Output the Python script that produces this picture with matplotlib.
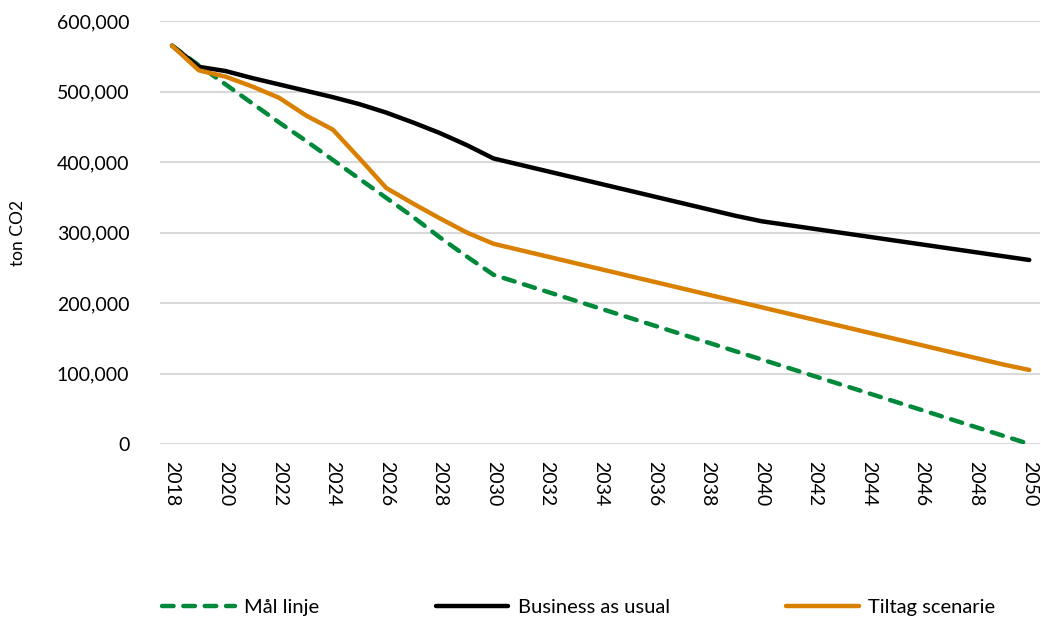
import matplotlib
matplotlib.use("Agg")
import matplotlib.pyplot as plt
from matplotlib.ticker import FuncFormatter

years = list(range(2018, 2051))

maal_linje = [565000, 537000, 510000, 483000, 456000, 430000, 403000, 376000, 349000,
              322000, 293000, 266000, 240000,
              228000, 216000, 204000, 192000, 180000, 168000, 156000, 144000, 132000, 120000,
              108000, 96000, 84000, 72000, 60000, 48000, 36000, 24000, 12000, 0]

business_as_usual = [565000, 535000, 529000, 519000, 510000, 501000, 492000, 482000, 470000,
                     456000, 441000, 424000, 405000,
                     396000, 387000, 378000, 369000, 360000, 351000, 342000, 333000, 324000, 316000,
                     310500, 305000, 299500, 294000, 288500, 283000, 277500, 272000, 266500, 261000]

tiltag_scenarie = [565000, 530000, 521000, 507000, 491000, 466000, 446000, 405000, 363000,
                   341000, 320000, 300000, 284000,
                   275000, 266000, 257000, 248000, 239000, 230000, 221000, 212000, 203000, 194000,
                   185000, 176000, 167000, 158000, 149000, 140000, 131000, 122000, 113000, 105000]

series_names = ["Mål linje", "Business as usual", "Tiltag scenarie"]

plt.rcParams['font.family'] = ['Lato', 'DejaVu Sans']

fig = plt.figure(figsize=(10.41, 6.27), dpi=100)
ax = fig.add_axes([160/1041, 1-444/627, 880/1041, (444-21)/627])

ax.plot(years, maal_linje, color="#00893A", lw=3.2, ls=(0, (2.6, 2.2)),
        dash_capstyle='round', solid_capstyle='round', label=series_names[0], zorder=3)
ax.plot(years, business_as_usual, color="black", lw=3.2, solid_capstyle='round',
        solid_joinstyle='round', label=series_names[1], zorder=3)
ax.plot(years, tiltag_scenarie, color="#DA8000", lw=3.2, solid_capstyle='round',
        solid_joinstyle='round', label=series_names[2], zorder=4)

ax.set_xlim(2017.55, 2050.4)
ax.set_ylim(0, 600000)
ax.set_yticks(range(0, 600001, 100000))
ax.yaxis.set_major_formatter(FuncFormatter(lambda v, p: f"{int(v):,}"))
ax.set_xticks(list(range(2018, 2051, 2)))
ax.set_xticklabels([str(y) for y in range(2018, 2051, 2)], rotation=270, fontsize=14)
ax.tick_params(axis='y', labelsize=14, length=0, pad=22)
ax.tick_params(axis='x', length=0, pad=12)
ax.grid(axis='y', color="#D9D9D9", lw=1.5, zorder=0)
for s in ax.spines.values():
    s.set_visible(False)

ax.set_ylabel("ton CO2", fontsize=12.5)
ax.yaxis.set_label_coords(-0.152, 0.5)

fig.legend(loc="lower center", bbox_to_anchor=(0.556, -0.012), ncol=3, frameon=False,
           fontsize=14.5, handlelength=3.6, columnspacing=5.8, handletextpad=0.45)

fig.savefig("out.png", dpi=100)
